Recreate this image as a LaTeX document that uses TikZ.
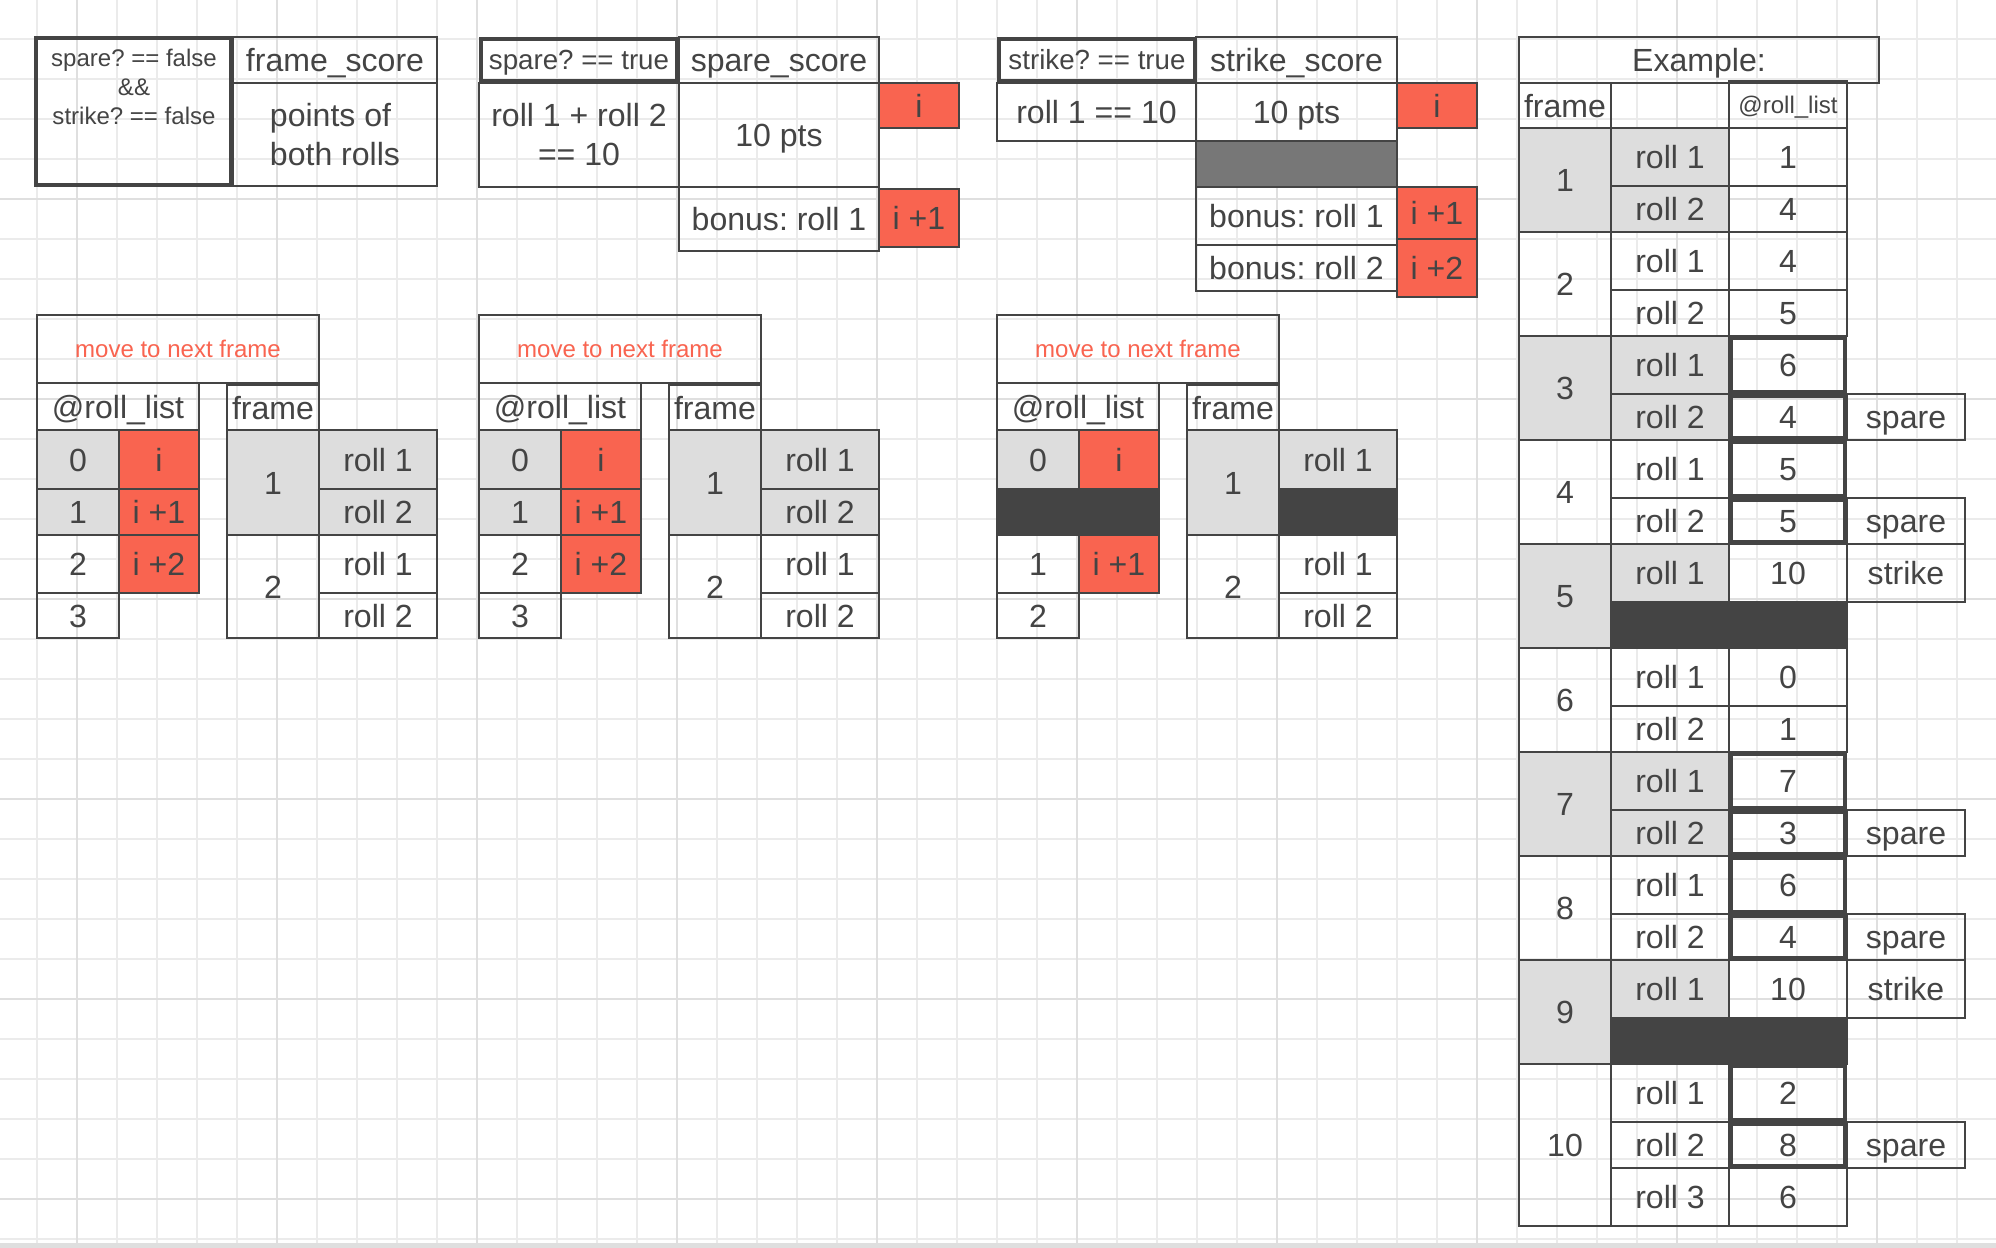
\documentclass[tikz,border=0pt]{standalone}
\usepackage{fontspec}
\setmainfont{Liberation Sans}
\usepackage{xcolor}
\definecolor{charcoal}{HTML}{444444}
\definecolor{platinum}{HTML}{DDDDDD}
\definecolor{tomatored}{HTML}{F96450}
\definecolor{sonicsilver}{HTML}{777777}
\definecolor{gridgray}{HTML}{EBEBEB}
\definecolor{gridgray2}{HTML}{DFDFDF}
\newcommand{\bigtxt}{\fontsize{22.8}{27.7}\selectfont}
\newcommand{\midtxt}{\fontsize{19.7}{23.6}\selectfont}
\newcommand{\smalltxt}{\fontsize{17.1}{20.6}\selectfont}
\frenchspacing

\begin{document}
\begin{tikzpicture}
	\tikzstyle{cell} = [rectangle,draw=charcoal,line width=0.05cm,inner sep=0pt,text=charcoal]
	\tikzstyle{cellthick} = [cell,line width=0.1cm]
	\tikzstyle{cellgrey} = [cell,fill=platinum]
	\tikzstyle{cellred} = [cell,fill=tomatored]
	\tikzstyle{cellbar} = [cell,fill=charcoal]
	\tikzstyle{bigtext} = [font=\bigtxt,text height=0.575cm,text depth=0cm]
	\tikzstyle{midtext} = [font=\midtxt,text height=0.496cm,text depth=0cm]
	\tikzstyle{smalltext} = [font=\smalltxt,text height=0.43cm,text depth=0cm]
	\tikzstyle{bigmulti} = [font=\bigtxt,text=charcoal,align=center]
	\tikzstyle{smallmulti} = [font=\smalltxt,text=charcoal,align=center]
	\tikzstyle{gridline} = [draw=gridgray,line width=0.04cm]
	\tikzstyle{gridline2} = [draw=gridgray2,line width=0.04cm]

	\useasboundingbox (0,0) rectangle (49.9,-31.2);
	\fill[white] (0,0) rectangle (49.9,-31.2);
	\foreach \x in {0,...,48} \draw[gridline] (0.925+\x,0) -- (0.925+\x,-31.075);
	\foreach \y in {0,...,30} \draw[gridline] (0,-0.975-\y) -- (49.9,-0.975-\y);
	\foreach \x in {0,...,9} \draw[gridline2] (1.925+5*\x,0) -- (1.925+5*\x,-31.075);
	\foreach \y in {0,...,5} \draw[gridline2] (0,-4.975-5*\y) -- (49.9,-4.975-5*\y);
	\fill[gridgray2] (0,-31.075) rectangle (49.9,-31.2);

	\node[cell,bigtext,minimum width=5.1cm,minimum height=1.15cm] (scoreAhead) at (8.375,-1.5) {frame\_score};
	\node[cell,bigmulti,align=left,minimum width=5.1cm,minimum height=2.575cm] (scoreAbody) at (8.375,-3.3625) {points of\\both rolls};
	\node[cellthick,minimum width=4.875cm,minimum height=3.675cm] (condA) at (3.3375,-2.7875) {};
	\node[smallmulti] (condAtext) at (3.35,-2.175) {spare? == false\\\&\&\\strike? == false};

	\node[cell,bigmulti,minimum width=5cm,minimum height=2.6cm] (ruleB) at (14.475,-3.375) {roll 1 + roll 2\\== 10};
	\node[cellthick,midtext,minimum width=4.9cm,minimum height=1.05cm] (condB) at (14.475,-1.5) {spare? == true};
	\node[cell,bigtext,minimum width=5cm,minimum height=1.15cm] (scoreBhead) at (19.475,-1.5) {spare\_score};
	\node[cell,bigtext,minimum width=5cm,minimum height=2.6cm] (scoreBbody) at (19.475,-3.375) {10 pts};
	\node[cellred,bigtext,minimum width=2cm,minimum height=1.125cm] (redB0) at (22.975,-2.6375) {i};
	\node[cell,bigtext,minimum width=5cm,minimum height=1.6cm] (bonusB1) at (19.475,-5.475) {bonus: roll 1};
	\node[cellred,bigtext,minimum width=2cm,minimum height=1.45cm] (redB1) at (22.975,-5.45) {i +1};

	\node[cell,bigtext,minimum width=4.975cm,minimum height=1.45cm] (ruleC) at (27.4125,-2.8) {roll 1 == 10};
	\node[cellthick,midtext,minimum width=4.9cm,minimum height=1.05cm] (condC) at (27.425,-1.5) {strike? == true};
	\node[cell,bigtext,minimum width=5.025cm,minimum height=1.15cm] (scoreChead) at (32.4125,-1.5) {strike\_score};
	\node[cell,bigtext,minimum width=5.025cm,minimum height=1.45cm] (scoreCbody) at (32.4125,-2.8) {10 pts};
	\node[cell,fill=sonicsilver,minimum width=5.025cm,minimum height=1.15cm] (gapC) at (32.4125,-4.1) {};
	\node[cell,bigtext,minimum width=5.025cm,minimum height=1.45cm] (bonusC1) at (32.4125,-5.4) {bonus: roll 1};
	\node[cell,bigtext,minimum width=5.025cm,minimum height=1.15cm] (bonusC2) at (32.4125,-6.7) {bonus: roll 2};
	\node[cellred,bigtext,minimum width=2cm,minimum height=1.125cm] (redC0) at (35.925,-2.6375) {i};
	\node[cellred,bigtext,minimum width=2cm,minimum height=1.3cm] (redC1) at (35.925,-5.325) {i +1};
	\node[cellred,bigtext,minimum width=2cm,minimum height=1.45cm] (redC2) at (35.925,-6.7) {i +2};

	\node[cell,smalltext,text=tomatored,minimum width=7.05cm,minimum height=1.7cm] (move1) at (4.45,-8.725) {move to next frame};
	\node[cell,bigtext,minimum width=4.05cm,minimum height=1.175cm] (list1) at (2.95,-10.1625) {@roll\_list};
	\node[cell,bigtext,minimum width=2.3cm,minimum height=1.1125cm] (framehd1) at (6.825,-10.19) {frame};
	\node[cellgrey,bigtext,minimum width=2.05cm,minimum height=1.475cm] (idx1a) at (1.95,-11.4875) {0};
	\node[cellgrey,bigtext,minimum width=2.05cm,minimum height=1.15cm] (idx1b) at (1.95,-12.8) {1};
	\node[cell,bigtext,minimum width=2.05cm,minimum height=1.45cm] (idx1c) at (1.95,-14.1) {2};
	\node[cell,bigtext,minimum width=2.05cm,minimum height=1.125cm] (idx1d) at (1.95,-15.3875) {3};
	\node[cellred,bigtext,minimum width=2cm,minimum height=1.475cm] (val1a) at (3.975,-11.4875) {i};
	\node[cellred,bigtext,minimum width=2cm,minimum height=1.15cm] (val1b) at (3.975,-12.8) {i +1};
	\node[cellred,bigtext,minimum width=2cm,minimum height=1.45cm] (val1c) at (3.975,-14.1) {i +2};
	\node[cellgrey,bigtext,minimum width=2.3cm,minimum height=2.625cm] (frm1a) at (6.825,-12.0625) {1};
	\node[cell,bigtext,minimum width=2.3cm,minimum height=2.575cm] (frm1b) at (6.825,-14.6625) {2};
	\node[cellgrey,bigtext,minimum width=2.95cm,minimum height=1.475cm] (roll1a) at (9.45,-11.4875) {roll 1};
	\node[cellgrey,bigtext,minimum width=2.95cm,minimum height=1.15cm] (roll1b) at (9.45,-12.8) {roll 2};
	\node[cell,bigtext,minimum width=2.95cm,minimum height=1.45cm] (roll1c) at (9.45,-14.1) {roll 1};
	\node[cell,bigtext,minimum width=2.95cm,minimum height=1.125cm] (roll1d) at (9.45,-15.3875) {roll 2};

	\node[cell,smalltext,text=tomatored,minimum width=7.05cm,minimum height=1.7cm] (move2) at (15.5,-8.725) {move to next frame};
	\node[cell,bigtext,minimum width=4.05cm,minimum height=1.175cm] (list2) at (14,-10.1625) {@roll\_list};
	\node[cell,bigtext,minimum width=2.3cm,minimum height=1.1125cm] (framehd2) at (17.875,-10.19) {frame};
	\node[cellgrey,bigtext,minimum width=2.05cm,minimum height=1.475cm] (idx2a) at (13,-11.4875) {0};
	\node[cellgrey,bigtext,minimum width=2.05cm,minimum height=1.15cm] (idx2b) at (13,-12.8) {1};
	\node[cell,bigtext,minimum width=2.05cm,minimum height=1.45cm] (idx2c) at (13,-14.1) {2};
	\node[cell,bigtext,minimum width=2.05cm,minimum height=1.125cm] (idx2d) at (13,-15.3875) {3};
	\node[cellred,bigtext,minimum width=2cm,minimum height=1.475cm] (val2a) at (15.025,-11.4875) {i};
	\node[cellred,bigtext,minimum width=2cm,minimum height=1.15cm] (val2b) at (15.025,-12.8) {i +1};
	\node[cellred,bigtext,minimum width=2cm,minimum height=1.45cm] (val2c) at (15.025,-14.1) {i +2};
	\node[cellgrey,bigtext,minimum width=2.3cm,minimum height=2.625cm] (frm2a) at (17.875,-12.0625) {1};
	\node[cell,bigtext,minimum width=2.3cm,minimum height=2.575cm] (frm2b) at (17.875,-14.6625) {2};
	\node[cellgrey,bigtext,minimum width=2.95cm,minimum height=1.475cm] (roll2a) at (20.5,-11.4875) {roll 1};
	\node[cellgrey,bigtext,minimum width=2.95cm,minimum height=1.15cm] (roll2b) at (20.5,-12.8) {roll 2};
	\node[cell,bigtext,minimum width=2.95cm,minimum height=1.45cm] (roll2c) at (20.5,-14.1) {roll 1};
	\node[cell,bigtext,minimum width=2.95cm,minimum height=1.125cm] (roll2d) at (20.5,-15.3875) {roll 2};

	\node[cell,smalltext,text=tomatored,minimum width=7.05cm,minimum height=1.7cm] (move3) at (28.45,-8.725) {move to next frame};
	\node[cell,bigtext,minimum width=4.05cm,minimum height=1.175cm] (list3) at (26.95,-10.1625) {@roll\_list};
	\node[cell,bigtext,minimum width=2.3cm,minimum height=1.1125cm] (framehd3) at (30.825,-10.19) {frame};
	\node[cellgrey,bigtext,minimum width=2.05cm,minimum height=1.475cm] (idx3a) at (25.95,-11.4875) {0};
	\node[cellred,bigtext,minimum width=2cm,minimum height=1.475cm] (val3a) at (27.975,-11.4875) {i};
	\node[cellbar,minimum width=4.05cm,minimum height=1.15cm] (bar3) at (26.95,-12.8) {};
	\node[cell,bigtext,minimum width=2.05cm,minimum height=1.45cm] (idx3c) at (25.95,-14.1) {1};
	\node[cellred,bigtext,minimum width=2cm,minimum height=1.45cm] (val3c) at (27.975,-14.1) {i +1};
	\node[cell,bigtext,minimum width=2.05cm,minimum height=1.125cm] (idx3d) at (25.95,-15.3875) {2};
	\node[cellgrey,bigtext,minimum width=2.3cm,minimum height=2.625cm] (frm3a) at (30.825,-12.0625) {1};
	\node[cell,bigtext,minimum width=2.3cm,minimum height=2.575cm] (frm3b) at (30.825,-14.6625) {2};
	\node[cellgrey,bigtext,minimum width=2.95cm,minimum height=1.475cm] (roll3a) at (33.45,-11.4875) {roll 1};
	\node[cellbar,minimum width=2.95cm,minimum height=1.15cm] (rollbar3) at (33.45,-12.8) {};
	\node[cell,bigtext,minimum width=2.95cm,minimum height=1.45cm] (roll3c) at (33.45,-14.1) {roll 1};
	\node[cell,bigtext,minimum width=2.95cm,minimum height=1.125cm] (roll3d) at (33.45,-15.3875) {roll 2};

	\node[cell,bigtext,minimum width=9cm,minimum height=1.15cm] (exhead) at (42.475,-1.5) {Example:};
	\node[cell,bigtext,minimum width=2.3cm,minimum height=1.125cm] (exframe) at (39.125,-2.6375) {frame};
	\node[cell,minimum width=2.95cm,minimum height=1.125cm] (exblank) at (41.75,-2.6375) {};
	\node[cell,smalltext,minimum width=2.95cm,minimum height=1.175cm] (exlist) at (44.7,-2.6125) {@roll\_list};

	\node[cellgrey,bigtext,minimum width=2.3cm,minimum height=2.6cm] (f1) at (39.125,-4.5) {1};
	\node[cellgrey,bigtext,minimum width=2.95cm,minimum height=1.45cm] (f1r1) at (41.75,-3.925) {roll 1};
	\node[cellgrey,bigtext,minimum width=2.95cm,minimum height=1.15cm] (f1r2) at (41.75,-5.225) {roll 2};
	\node[cell,bigtext,minimum width=2.95cm,minimum height=1.45cm] (f1v1) at (44.7,-3.925) {1};
	\node[cell,bigtext,minimum width=2.95cm,minimum height=1.15cm] (f1v2) at (44.7,-5.225) {4};

	\node[cell,bigtext,minimum width=2.3cm,minimum height=2.6cm] (f2) at (39.125,-7.1) {2};
	\node[cell,bigtext,minimum width=2.95cm,minimum height=1.45cm] (f2r1) at (41.75,-6.525) {roll 1};
	\node[cell,bigtext,minimum width=2.95cm,minimum height=1.15cm] (f2r2) at (41.75,-7.825) {roll 2};
	\node[cell,bigtext,minimum width=2.95cm,minimum height=1.45cm] (f2v1) at (44.7,-6.525) {4};
	\node[cell,bigtext,minimum width=2.95cm,minimum height=1.15cm] (f2v2) at (44.7,-7.825) {5};

	\node[cellgrey,bigtext,minimum width=2.3cm,minimum height=2.6cm] (f3) at (39.125,-9.7) {3};
	\node[cellgrey,bigtext,minimum width=2.95cm,minimum height=1.45cm] (f3r1) at (41.75,-9.125) {roll 1};
	\node[cellgrey,bigtext,minimum width=2.95cm,minimum height=1.15cm] (f3r2) at (41.75,-10.425) {roll 2};
	\node[cellthick,bigtext,minimum width=2.85cm,minimum height=1.35cm] (f3v1) at (44.7,-9.125) {6};
	\node[cellthick,bigtext,minimum width=2.85cm,minimum height=1.05cm] (f3v2) at (44.7,-10.425) {4};
	\node[cell,bigtext,minimum width=2.95cm,minimum height=1.15cm] (f3tag) at (47.65,-10.425) {spare};

	\node[cell,bigtext,minimum width=2.3cm,minimum height=2.6cm] (f4) at (39.125,-12.3) {4};
	\node[cell,bigtext,minimum width=2.95cm,minimum height=1.45cm] (f4r1) at (41.75,-11.725) {roll 1};
	\node[cell,bigtext,minimum width=2.95cm,minimum height=1.15cm] (f4r2) at (41.75,-13.025) {roll 2};
	\node[cellthick,bigtext,minimum width=2.85cm,minimum height=1.35cm] (f4v1) at (44.7,-11.725) {5};
	\node[cellthick,bigtext,minimum width=2.85cm,minimum height=1.05cm] (f4v2) at (44.7,-13.025) {5};
	\node[cell,bigtext,minimum width=2.95cm,minimum height=1.15cm] (f4tag) at (47.65,-13.025) {spare};

	\node[cellgrey,bigtext,minimum width=2.3cm,minimum height=2.6cm] (f5) at (39.125,-14.9) {5};
	\node[cellgrey,bigtext,minimum width=2.95cm,minimum height=1.45cm] (f5r1) at (41.75,-14.325) {roll 1};
	\node[cell,bigtext,minimum width=2.95cm,minimum height=1.45cm] (f5v1) at (44.7,-14.325) {10};
	\node[cell,bigtext,minimum width=2.95cm,minimum height=1.45cm] (f5tag) at (47.65,-14.325) {strike};
	\node[cellbar,minimum width=5.9cm,minimum height=1.15cm] (f5bar) at (43.225,-15.625) {};

	\node[cell,bigtext,minimum width=2.3cm,minimum height=2.6cm] (f6) at (39.125,-17.5) {6};
	\node[cell,bigtext,minimum width=2.95cm,minimum height=1.45cm] (f6r1) at (41.75,-16.925) {roll 1};
	\node[cell,bigtext,minimum width=2.95cm,minimum height=1.15cm] (f6r2) at (41.75,-18.225) {roll 2};
	\node[cell,bigtext,minimum width=2.95cm,minimum height=1.45cm] (f6v1) at (44.7,-16.925) {0};
	\node[cell,bigtext,minimum width=2.95cm,minimum height=1.15cm] (f6v2) at (44.7,-18.225) {1};

	\node[cellgrey,bigtext,minimum width=2.3cm,minimum height=2.6cm] (f7) at (39.125,-20.1) {7};
	\node[cellgrey,bigtext,minimum width=2.95cm,minimum height=1.45cm] (f7r1) at (41.75,-19.525) {roll 1};
	\node[cellgrey,bigtext,minimum width=2.95cm,minimum height=1.15cm] (f7r2) at (41.75,-20.825) {roll 2};
	\node[cellthick,bigtext,minimum width=2.85cm,minimum height=1.35cm] (f7v1) at (44.7,-19.525) {7};
	\node[cellthick,bigtext,minimum width=2.85cm,minimum height=1.05cm] (f7v2) at (44.7,-20.825) {3};
	\node[cell,bigtext,minimum width=2.95cm,minimum height=1.15cm] (f7tag) at (47.65,-20.825) {spare};

	\node[cell,bigtext,minimum width=2.3cm,minimum height=2.6cm] (f8) at (39.125,-22.7) {8};
	\node[cell,bigtext,minimum width=2.95cm,minimum height=1.45cm] (f8r1) at (41.75,-22.125) {roll 1};
	\node[cell,bigtext,minimum width=2.95cm,minimum height=1.15cm] (f8r2) at (41.75,-23.425) {roll 2};
	\node[cellthick,bigtext,minimum width=2.85cm,minimum height=1.35cm] (f8v1) at (44.7,-22.125) {6};
	\node[cellthick,bigtext,minimum width=2.85cm,minimum height=1.05cm] (f8v2) at (44.7,-23.425) {4};
	\node[cell,bigtext,minimum width=2.95cm,minimum height=1.15cm] (f8tag) at (47.65,-23.425) {spare};

	\node[cellgrey,bigtext,minimum width=2.3cm,minimum height=2.6cm] (f9) at (39.125,-25.3) {9};
	\node[cellgrey,bigtext,minimum width=2.95cm,minimum height=1.45cm] (f9r1) at (41.75,-24.725) {roll 1};
	\node[cell,bigtext,minimum width=2.95cm,minimum height=1.45cm] (f9v1) at (44.7,-24.725) {10};
	\node[cell,bigtext,minimum width=2.95cm,minimum height=1.45cm] (f9tag) at (47.65,-24.725) {strike};
	\node[cellbar,minimum width=5.9cm,minimum height=1.15cm] (f9bar) at (43.225,-26.025) {};

	\node[cell,bigtext,minimum width=2.3cm,minimum height=4.05cm] (f10) at (39.125,-28.625) {10};
	\node[cell,bigtext,minimum width=2.95cm,minimum height=1.45cm] (f10r1) at (41.75,-27.325) {roll 1};
	\node[cell,bigtext,minimum width=2.95cm,minimum height=1.15cm] (f10r2) at (41.75,-28.625) {roll 2};
	\node[cell,bigtext,minimum width=2.95cm,minimum height=1.45cm] (f10r3) at (41.75,-29.925) {roll 3};
	\node[cellthick,bigtext,minimum width=2.85cm,minimum height=1.35cm] (f10v1) at (44.7,-27.325) {2};
	\node[cellthick,bigtext,minimum width=2.85cm,minimum height=1.05cm] (f10v2) at (44.7,-28.625) {8};
	\node[cell,bigtext,minimum width=2.95cm,minimum height=1.45cm] (f10v3) at (44.7,-29.925) {6};
	\node[cell,bigtext,minimum width=2.95cm,minimum height=1.15cm] (f10tag) at (47.65,-28.625) {spare};
\end{tikzpicture}
\end{document}
